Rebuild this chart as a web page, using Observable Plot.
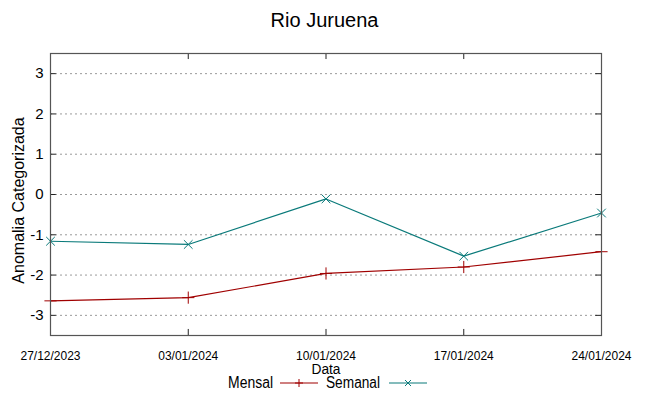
<!DOCTYPE html>
<html>
<head>
<meta charset="utf-8">
<script src="https://cdn.jsdelivr.net/npm/d3@7"></script>
<script src="https://cdn.jsdelivr.net/npm/@observablehq/plot@0.6"></script>
<style>
  body { margin: 0; background: #fff; width: 649px; height: 396px; position: relative; overflow: hidden; }
  #title { height: 40px; line-height: 40px; text-align: center; font-family: "Liberation Sans", Arial, sans-serif; font-size: 20px; color: #000; }
  #legend { position: absolute; top: 370px; left: 0; width: 649px; height: 24px; }
</style>
</head>
<body>
<div id="title">Rio Juruena</div>
<div id="chart"></div>
<div id="legend"></div>
<script>
const datas = ["2023-12-27", "2024-01-03", "2024-01-10", "2024-01-17", "2024-01-24"];
const mensal = [-2.64, -2.56, -1.96, -1.80, -1.42];
const semanal = [-1.16, -1.24, -0.11, -1.53, -0.46];
const yTicks = [-3, -2, -1, 0, 1, 2, 3];
const seriesNames = ["Mensal", "Semanal"];
const seriesColors = ["#a00000", "#0a7a7a"];

const dates = datas.map(s => new Date(s + "T00:00:00Z"));
const rows = [];
dates.forEach((d, i) => {
  rows.push({date: d, value: mensal[i], serie: seriesNames[0]});
  rows.push({date: d, value: semanal[i], serie: seriesNames[1]});
});
const xMin = dates[0], xMax = dates[dates.length - 1];
const tickLenT = 7 * 3600 * 1000; // horizontal tick length in time
const fmt = d3.utcFormat("%d/%m/%Y");

const chart = Plot.plot({
  width: 649,
  height: 340,
  marginLeft: 50,
  marginRight: 48,
  marginTop: 13,
  marginBottom: 45,
  style: {fontFamily: "'Liberation Sans', Arial, sans-serif", background: "#fff", color: "#000"},
  x: {type: "utc", domain: [xMin, xMax]},
  y: {domain: [-3.5, 3.5]},
  color: {domain: seriesNames, range: seriesColors},
  marks: [
    Plot.ruleY(yTicks, {y: d => d, stroke: "#9a9a9a", strokeWidth: 1, strokeDasharray: "2,3"}),
    Plot.axisY({ticks: yTicks, tickSize: 0, tickPadding: 7, fontSize: 15, label: null, tickFormat: d => String(d).replace("−", "-")}),
    Plot.axisX({ticks: dates, tickSize: 0, tickPadding: 15, fontSize: 13, tickFormat: fmt, label: null}),
    Plot.text(["Anomalia Categorizada"], {frameAnchor: "left", dx: -32, dy: 6, rotate: -90, textAnchor: "middle", fontSize: 16, text: d => d}),
    Plot.text(["Data"], {frameAnchor: "bottom", dy: 38, fontSize: 14, text: d => d}),
    Plot.ruleX(dates, {x: d => d, y1: -3.5, y2: -3.35, stroke: "#222"}),
    Plot.ruleX(dates, {x: d => d, y1: 3.5, y2: 3.35, stroke: "#222"}),
    Plot.ruleY(yTicks, {y: d => d, x1: xMin, x2: new Date(+xMin + tickLenT), stroke: "#222"}),
    Plot.ruleY(yTicks, {y: d => d, x1: xMax, x2: new Date(+xMax - tickLenT), stroke: "#222"}),
    Plot.line(rows, {x: "date", y: "value", z: "serie", stroke: "serie", strokeWidth: 1.2}),
    Plot.dot(rows.filter(r => r.serie === "Mensal"), {x: "date", y: "value", symbol: "plus", r: 4, stroke: "serie", strokeWidth: 1}),
    Plot.dot(rows.filter(r => r.serie === "Semanal"), {x: "date", y: "value", symbol: "times", r: 4, stroke: "serie", strokeWidth: 1}),
    Plot.frame({stroke: "#555", strokeWidth: 1.2})
  ]
});
document.getElementById("chart").appendChild(chart);

// condense x tick labels and axis title (narrow font look)
chart.querySelectorAll('g[aria-label="x-axis tick label"] text').forEach(t => {
  t.setAttribute("textLength", 60);
  t.setAttribute("lengthAdjust", "spacingAndGlyphs");
});
chart.querySelectorAll('g[aria-label="text"] text').forEach(t => {
  if (t.textContent === "Data") {
    t.setAttribute("textLength", 29);
    t.setAttribute("lengthAdjust", "spacingAndGlyphs");
  }
});

// legend
const NS = "http://www.w3.org/2000/svg";
const leg = document.getElementById("legend");
const ls = document.createElementNS(NS, "svg");
ls.setAttribute("width", 649); ls.setAttribute("height", 24);
leg.appendChild(ls);
const items = [
  {name: seriesNames[0], color: seriesColors[0], textX: 228, w: 45, lineX: 280, sym: "plus"},
  {name: seriesNames[1], color: seriesColors[1], textX: 326, w: 54, lineX: 389, sym: "times"}
];
items.forEach(it => {
  const t = document.createElementNS(NS, "text");
  t.setAttribute("x", it.textX); t.setAttribute("y", 18);
  t.setAttribute("font-family", "Liberation Sans, Arial, sans-serif");
  t.setAttribute("font-size", 16);
  t.setAttribute("textLength", it.w);
  t.setAttribute("lengthAdjust", "spacingAndGlyphs");
  t.textContent = it.name;
  ls.appendChild(t);
  const l = document.createElementNS(NS, "line");
  l.setAttribute("x1", it.lineX); l.setAttribute("x2", it.lineX + 38);
  l.setAttribute("y1", 13); l.setAttribute("y2", 13);
  l.setAttribute("stroke", it.color); l.setAttribute("stroke-width", 1.2);
  ls.appendChild(l);
  const cx = it.lineX + 19, cy = 13;
  const p = document.createElementNS(NS, "path");
  p.setAttribute("d", it.sym === "plus"
    ? `M${cx},${cy - 4}V${cy + 4}M${cx - 4},${cy}H${cx + 4}`
    : `M${cx - 3},${cy - 3}L${cx + 3},${cy + 3}M${cx - 3},${cy + 3}L${cx + 3},${cy - 3}`);
  p.setAttribute("stroke", it.color); p.setAttribute("stroke-width", 1);
  ls.appendChild(p);
});
</script>
</body>
</html>
